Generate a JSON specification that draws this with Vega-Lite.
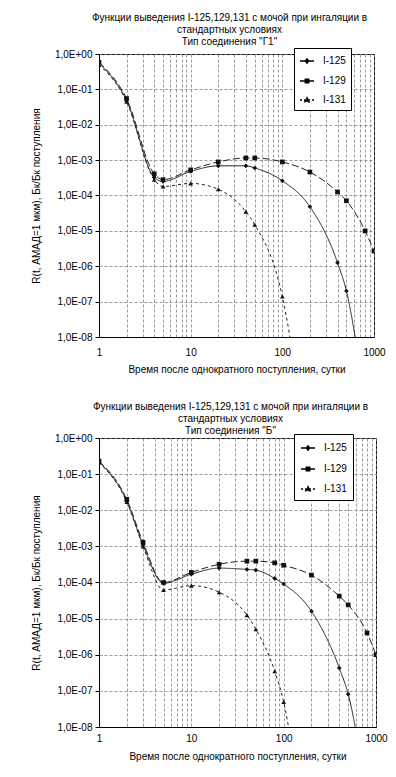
{
  "$schema": "https://vega.github.io/schema/vega-lite/v6.json",
  "padding": {"left": 30, "top": 12, "right": 10, "bottom": 5},
  "background": "#ffffff",
  "config": {
    "font": "Liberation Sans",
    "view": {"stroke": "#000000", "strokeWidth": 1},
    "axis": {
      "labelFont": "Liberation Sans", "labelFontSize": 10, "labelColor": "#000000",
      "titleFont": "Liberation Sans", "titleFontSize": 10, "titleFontWeight": "normal", "titleColor": "#000000",
      "domainColor": "#000000", "tickColor": "#000000",
      "gridColor": "#808080", "gridDash": [3, 2], "gridWidth": 0.8, "gridOpacity": 1
    },
    "legend": {"labelFont": "Liberation Sans", "labelFontSize": 10, "labelColor": "#000000"},
    "title": {"font": "Liberation Sans", "fontSize": 10, "fontWeight": "normal", "color": "#000000", "lineHeight": 12},
    "concat": {"spacing": 26}
  },
  "resolve": {"scale": {"shape": "independent", "strokeDash": "independent"}, "legend": {"shape": "independent", "strokeDash": "independent"}},
  "data": {"values": [
    {"panel": "G1", "series": "I-125", "t": 1, "R": 0.55},
    {"panel": "G1", "series": "I-125", "t": 2, "R": 0.048},
    {"panel": "G1", "series": "I-125", "t": 4, "R": 0.00033},
    {"panel": "G1", "series": "I-125", "t": 5, "R": 0.00025},
    {"panel": "G1", "series": "I-125", "t": 10, "R": 0.00048},
    {"panel": "G1", "series": "I-125", "t": 20, "R": 0.00069},
    {"panel": "G1", "series": "I-125", "t": 40, "R": 0.00069},
    {"panel": "G1", "series": "I-125", "t": 50, "R": 0.0006},
    {"panel": "G1", "series": "I-125", "t": 100, "R": 0.00026},
    {"panel": "G1", "series": "I-125", "t": 200, "R": 0.000048},
    {"panel": "G1", "series": "I-125", "t": 400, "R": 0.00000126},
    {"panel": "G1", "series": "I-125", "t": 500, "R": 0.0000002},
    {"panel": "G1", "series": "I-125", "t": 700, "R": 0.0000000015},
    {"panel": "G1", "series": "I-129", "t": 1, "R": 0.58},
    {"panel": "G1", "series": "I-129", "t": 2, "R": 0.055},
    {"panel": "G1", "series": "I-129", "t": 4, "R": 0.00041},
    {"panel": "G1", "series": "I-129", "t": 5, "R": 0.00028},
    {"panel": "G1", "series": "I-129", "t": 10, "R": 0.00053},
    {"panel": "G1", "series": "I-129", "t": 20, "R": 0.00089},
    {"panel": "G1", "series": "I-129", "t": 40, "R": 0.00115},
    {"panel": "G1", "series": "I-129", "t": 50, "R": 0.00115},
    {"panel": "G1", "series": "I-129", "t": 100, "R": 0.00089},
    {"panel": "G1", "series": "I-129", "t": 200, "R": 0.00046},
    {"panel": "G1", "series": "I-129", "t": 400, "R": 0.000126},
    {"panel": "G1", "series": "I-129", "t": 500, "R": 0.000071},
    {"panel": "G1", "series": "I-129", "t": 800, "R": 0.00001},
    {"panel": "G1", "series": "I-129", "t": 1000, "R": 0.0000027},
    {"panel": "G1", "series": "I-131", "t": 1, "R": 0.5},
    {"panel": "G1", "series": "I-131", "t": 2, "R": 0.045},
    {"panel": "G1", "series": "I-131", "t": 4, "R": 0.00028},
    {"panel": "G1", "series": "I-131", "t": 5, "R": 0.00018},
    {"panel": "G1", "series": "I-131", "t": 10, "R": 0.00022},
    {"panel": "G1", "series": "I-131", "t": 20, "R": 0.00015},
    {"panel": "G1", "series": "I-131", "t": 40, "R": 0.000035},
    {"panel": "G1", "series": "I-131", "t": 50, "R": 0.000015},
    {"panel": "G1", "series": "I-131", "t": 100, "R": 0.00000014},
    {"panel": "G1", "series": "I-131", "t": 200, "R": 0.000000000001},
    {"panel": "B", "series": "I-125", "t": 1, "R": 0.22},
    {"panel": "B", "series": "I-125", "t": 2, "R": 0.018},
    {"panel": "B", "series": "I-125", "t": 3, "R": 0.0011},
    {"panel": "B", "series": "I-125", "t": 5, "R": 0.000095},
    {"panel": "B", "series": "I-125", "t": 10, "R": 0.00017},
    {"panel": "B", "series": "I-125", "t": 20, "R": 0.00025},
    {"panel": "B", "series": "I-125", "t": 40, "R": 0.00023},
    {"panel": "B", "series": "I-125", "t": 50, "R": 0.00022},
    {"panel": "B", "series": "I-125", "t": 80, "R": 0.00013},
    {"panel": "B", "series": "I-125", "t": 100, "R": 0.000091},
    {"panel": "B", "series": "I-125", "t": 200, "R": 0.000016},
    {"panel": "B", "series": "I-125", "t": 400, "R": 0.00000043},
    {"panel": "B", "series": "I-125", "t": 500, "R": 0.000000081},
    {"panel": "B", "series": "I-125", "t": 800, "R": 0.0000000001},
    {"panel": "B", "series": "I-129", "t": 1, "R": 0.23},
    {"panel": "B", "series": "I-129", "t": 2, "R": 0.02},
    {"panel": "B", "series": "I-129", "t": 3, "R": 0.0013},
    {"panel": "B", "series": "I-129", "t": 5, "R": 0.0001},
    {"panel": "B", "series": "I-129", "t": 10, "R": 0.00019},
    {"panel": "B", "series": "I-129", "t": 20, "R": 0.00032},
    {"panel": "B", "series": "I-129", "t": 40, "R": 0.00039},
    {"panel": "B", "series": "I-129", "t": 50, "R": 0.00039},
    {"panel": "B", "series": "I-129", "t": 80, "R": 0.00035},
    {"panel": "B", "series": "I-129", "t": 100, "R": 0.0003},
    {"panel": "B", "series": "I-129", "t": 200, "R": 0.00016},
    {"panel": "B", "series": "I-129", "t": 400, "R": 0.000042},
    {"panel": "B", "series": "I-129", "t": 500, "R": 0.000024},
    {"panel": "B", "series": "I-129", "t": 800, "R": 0.000004},
    {"panel": "B", "series": "I-129", "t": 1000, "R": 0.000001},
    {"panel": "B", "series": "I-131", "t": 1, "R": 0.21},
    {"panel": "B", "series": "I-131", "t": 2, "R": 0.017},
    {"panel": "B", "series": "I-131", "t": 3, "R": 0.001},
    {"panel": "B", "series": "I-131", "t": 5, "R": 0.000062},
    {"panel": "B", "series": "I-131", "t": 10, "R": 0.000082},
    {"panel": "B", "series": "I-131", "t": 20, "R": 0.000054},
    {"panel": "B", "series": "I-131", "t": 40, "R": 0.0000125},
    {"panel": "B", "series": "I-131", "t": 50, "R": 0.0000051},
    {"panel": "B", "series": "I-131", "t": 80, "R": 0.00000035},
    {"panel": "B", "series": "I-131", "t": 100, "R": 0.000000049},
    {"panel": "B", "series": "I-131", "t": 200, "R": 0.0000000000001}
  ]},
  "vconcat": [
    {
      "transform": [{"filter": "datum.panel === 'G1'"}],
      "title": {"text": ["Функции выведения I-125,129,131 с мочой при ингаляции в", "стандартных условиях", "Тип соединения \"Г1\""], "anchor": "middle", "frame": "group", "dx": -7, "offset": 1},
      "width": 275,
      "height": 283,
      "resolve": {"scale": {"shape": "independent", "strokeDash": "independent"}, "legend": {"shape": "independent", "strokeDash": "independent"}},
      "encoding": {
        "x": {"field": "t", "type": "quantitative", "scale": {"type": "log", "domain": [1, 1000]},
          "axis": {"values": [1,2,3,4,5,6,7,8,9,10,20,30,40,50,60,70,80,90,100,200,300,400,500,600,700,800,900,1000],
            "labelExpr": "indexof([1,10,100,1000], datum.value) >= 0 ? '' + datum.value : ''",
            "ticks": false, "labelPadding": 10, "labelFlush": false, "labelOverlap": false,
            "title": "Время после однократного поступления, сутки", "titlePadding": 7, "grid": true}},
        "y": {"field": "R", "type": "quantitative", "scale": {"type": "log", "domain": [0.00000001, 1]},
          "axis": {"values": [1,0.1,0.01,0.001,0.0001,0.00001,0.000001,0.0000001,0.00000001],
            "labelExpr": "datum.value >= 0.99 ? '1,0E+00' : '1,0E-0' + round(-log(datum.value)/LN10)",
            "tickSize": 4, "labelPadding": 3, "labelFlush": false, "labelOverlap": false,
            "title": "R(t, АМАД=1 мкм), Бк/Бк поступления", "titlePadding": 13, "grid": true}}
      },
      "layer": [
        {"mark": {"type": "line", "interpolate": "monotone", "clip": true, "strokeWidth": 1, "color": "#222222"},
          "encoding": {"strokeDash": {"field": "series", "type": "nominal", "scale": {"domain": ["I-125","I-129","I-131"], "range": [[1,0],[7,3],[3,3]]}, "legend": null}}},
        {"mark": {"type": "point", "filled": true, "clip": true, "color": "#111111", "size": 22, "opacity": 1},
          "encoding": {"shape": {"field": "series", "type": "nominal", "scale": {"domain": ["I-125","I-129","I-131"], "range": ["diamond","square","triangle-up"]}, "legend": null}}},
        {"transform": [{"filter": "datum.t < 0"}],
          "mark": {"type": "point", "filled": true, "fill": "#000000", "stroke": "#000000", "strokeWidth": 1, "opacity": 1, "size": 196},
          "encoding": {
            "shape": {"field": "series", "type": "nominal", "scale": {"domain": ["I-125","I-129","I-131"], "range": ["M-1,0H1M0,-0.3L0.22,0L0,0.3L-0.22,0Z", "M-1,0H1M-0.24,-0.24H0.24V0.24H-0.24Z", "M-1,0H1M0,-0.32L0.3,0.24H-0.3Z"]},
              "legend": {"orient": "none", "legendX": 195, "legendY": -6, "title": null, "strokeColor": "#000000", "fillColor": "#ffffff", "padding": 5, "rowPadding": 6, "symbolSize": 196, "labelOffset": 8, "labelExpr": "datum.label + '       '"}},
            "strokeDash": {"field": "series", "type": "nominal", "scale": {"domain": ["I-125","I-129","I-131"], "range": [[1,0],[1,0],[2,2]]},
              "legend": {"orient": "none", "legendX": 195, "legendY": -6, "title": null, "strokeColor": "#000000", "fillColor": "#ffffff", "padding": 5, "rowPadding": 6, "symbolSize": 196, "labelOffset": 8, "labelExpr": "datum.label + '       '"}}}}
      ]
    },
    {
      "transform": [{"filter": "datum.panel === 'B'"}],
      "title": {"text": ["Функции выведения I-125,129,131 с мочой при ингаляции в", "стандартных условиях", "Тип соединения \"Б\""], "anchor": "middle", "frame": "group", "dx": -7, "offset": -3},
      "width": 277,
      "height": 289,
      "resolve": {"scale": {"shape": "independent", "strokeDash": "independent"}, "legend": {"shape": "independent", "strokeDash": "independent"}},
      "encoding": {
        "x": {"field": "t", "type": "quantitative", "scale": {"type": "log", "domain": [1, 1000]},
          "axis": {"values": [1,2,3,4,5,6,7,8,9,10,20,30,40,50,60,70,80,90,100,200,300,400,500,600,700,800,900,1000],
            "labelExpr": "indexof([1,10,100,1000], datum.value) >= 0 ? '' + datum.value : ''",
            "ticks": false, "labelPadding": 6, "labelFlush": false, "labelOverlap": false,
            "title": "Время после однократного поступления, сутки", "titlePadding": 8, "grid": true}},
        "y": {"field": "R", "type": "quantitative", "scale": {"type": "log", "domain": [0.00000001, 1]},
          "axis": {"values": [1,0.1,0.01,0.001,0.0001,0.00001,0.000001,0.0000001,0.00000001],
            "labelExpr": "datum.value >= 0.99 ? '1,0E+00' : '1,0E-0' + round(-log(datum.value)/LN10)",
            "tickSize": 4, "labelPadding": 3, "labelFlush": false, "labelOverlap": false,
            "title": "R(t, АМАД=1 мкм), Бк/Бк поступления", "titlePadding": 13, "grid": true}}
      },
      "layer": [
        {"mark": {"type": "line", "interpolate": "monotone", "clip": true, "strokeWidth": 1, "color": "#222222"},
          "encoding": {"strokeDash": {"field": "series", "type": "nominal", "scale": {"domain": ["I-125","I-129","I-131"], "range": [[1,0],[7,3],[3,3]]}, "legend": null}}},
        {"mark": {"type": "point", "filled": true, "clip": true, "color": "#111111", "size": 22, "opacity": 1},
          "encoding": {"shape": {"field": "series", "type": "nominal", "scale": {"domain": ["I-125","I-129","I-131"], "range": ["diamond","square","triangle-up"]}, "legend": null}}},
        {"transform": [{"filter": "datum.t < 0"}],
          "mark": {"type": "point", "filled": true, "fill": "#000000", "stroke": "#000000", "strokeWidth": 1, "opacity": 1, "size": 196},
          "encoding": {
            "shape": {"field": "series", "type": "nominal", "scale": {"domain": ["I-125","I-129","I-131"], "range": ["M-1,0H1M0,-0.3L0.22,0L0,0.3L-0.22,0Z", "M-1,0H1M-0.24,-0.24H0.24V0.24H-0.24Z", "M-1,0H1M0,-0.32L0.3,0.24H-0.3Z"]},
              "legend": {"orient": "none", "legendX": 195, "legendY": -4, "title": null, "strokeColor": "#000000", "fillColor": "#ffffff", "padding": 6, "rowPadding": 7, "symbolSize": 196, "labelOffset": 8, "labelExpr": "datum.label + '       '"}},
            "strokeDash": {"field": "series", "type": "nominal", "scale": {"domain": ["I-125","I-129","I-131"], "range": [[1,0],[1,0],[2,2]]},
              "legend": {"orient": "none", "legendX": 195, "legendY": -4, "title": null, "strokeColor": "#000000", "fillColor": "#ffffff", "padding": 6, "rowPadding": 7, "symbolSize": 196, "labelOffset": 8, "labelExpr": "datum.label + '       '"}}}}
      ]
    }
  ]
}
